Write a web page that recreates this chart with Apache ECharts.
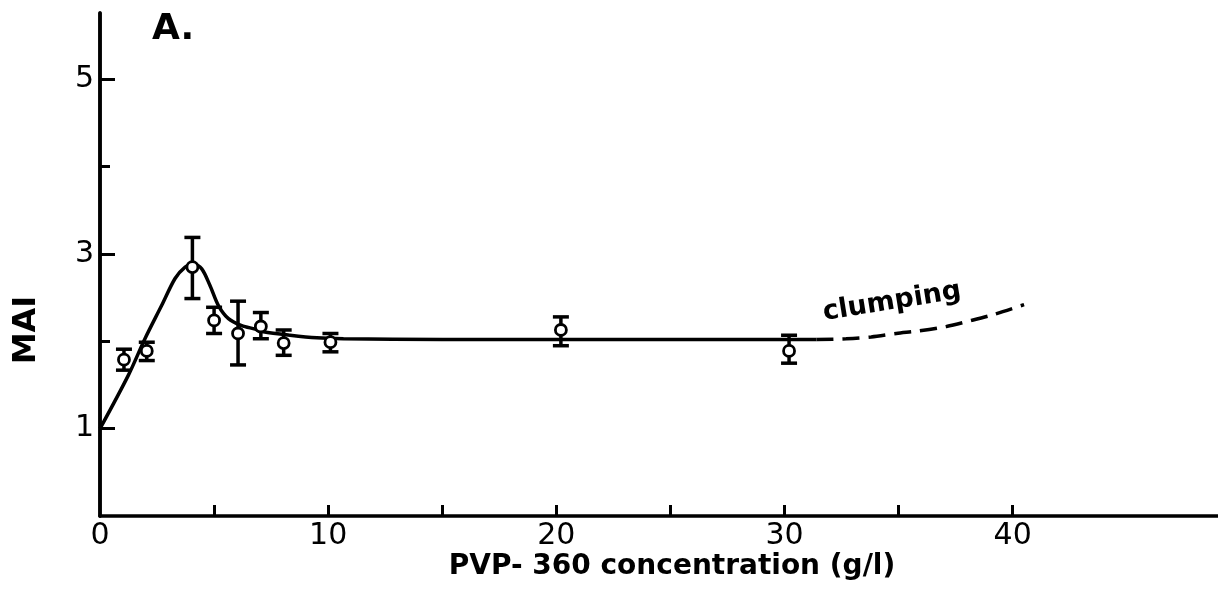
<!DOCTYPE html>
<html><head><meta charset="utf-8">
<script src="https://cdn.jsdelivr.net/npm/echarts@6/dist/echarts.min.js"></script>
<style>html,body{margin:0;padding:0;background:#fff}#c{width:1218px;height:608px}</style>
</head><body><div id="c"></div>
<script>
// measured points (PVP-360 concentration g/l, MAI)
const pointX  = [1.05, 2.05, 4.05, 5.0, 6.05, 7.05, 8.05, 10.1, 20.2, 30.2];
const pointY  = [1.79, 1.89, 2.85, 2.24, 2.09, 2.17, 1.98, 1.99, 2.13, 1.89];
const errLow  = [1.67, 1.78, 2.49, 2.09, 1.73, 2.03, 1.84, 1.88, 1.95, 1.75];
const errHigh = [1.91, 1.99, 3.19, 2.39, 2.46, 2.33, 2.13, 2.09, 2.28, 2.07];
// fitted curve (solid)
const fitX = [0, 1.24, 1.97, 2.7, 3.29, 3.73, 4.09, 4.46, 4.82, 5.19, 5.63, 6.21, 6.8, 7.16, 8.33, 9.5, 10.67, 15, 31.4];
const fitY = [1.0, 1.61, 2.03, 2.41, 2.72, 2.85, 2.89, 2.83, 2.64, 2.41, 2.26, 2.18, 2.14, 2.11, 2.07, 2.04, 2.03, 2.02, 2.02];
// clumping region (dashed)
const clumpX = [31.4, 32.7, 33.8, 34.9, 35.9, 37.1, 38.2, 39.2, 40.5];
const clumpY = [2.02, 2.03, 2.05, 2.09, 2.12, 2.17, 2.24, 2.31, 2.42];
// ticks and labels
const xTickValues  = [5, 10, 15, 20, 25, 30, 35, 40];
const xLabelValues = [0, 10, 20, 30, 40];
const yMajorTicks  = [1, 3, 5];
const yMinorTicks  = [2, 4];

const chart = echarts.init(document.getElementById('c'), null, {renderer: 'canvas'});
const FONT = 'DejaVu Sans';
const black = '#000';

const pts = pointX.map((x, i) => [x, pointY[i]]);
const errs = pointX.map((x, i) => [x, errLow[i], errHigh[i]]);
const fit = fitX.map((x, i) => [x, fitY[i]]);
const clump = clumpX.map((x, i) => [x, clumpY[i]]);

const yBase = {
  type: 'value', min: 0, max: 5.76, position: 'left',
  axisLine: {show: true, lineStyle: {color: black, width: 3.5}},
  splitLine: {show: false}
};

chart.setOption({
  backgroundColor: '#fff',
  animation: false,
  grid: {left: 100, right: 0, top: 13, bottom: 92, containLabel: false},
  xAxis: {
    type: 'value', min: 0, max: 49,
    axisLine: {show: true, onZero: false, lineStyle: {color: black, width: 3.5}},
    axisTick: {show: true, inside: false, length: -11, customValues: xTickValues, lineStyle: {color: black, width: 3}},
    axisLabel: {show: true, customValues: xLabelValues, color: black, fontFamily: FONT, fontSize: 30, margin: 5},
    splitLine: {show: false}
  },
  yAxis: [
    Object.assign({}, yBase, {
      axisTick: {show: true, inside: false, length: -15, customValues: yMajorTicks, lineStyle: {color: black, width: 3}},
      axisLabel: {show: true, customValues: yMajorTicks, color: black, fontFamily: FONT, fontSize: 30, margin: 6}
    }),
    Object.assign({}, yBase, {
      axisTick: {show: true, inside: false, length: -10, customValues: yMinorTicks, lineStyle: {color: black, width: 3}},
      axisLabel: {show: false}
    })
  ],
  series: [
    {
      type: 'line', data: fit, smooth: 0.3, symbol: 'none', z: 2,
      lineStyle: {color: black, width: 3.5}
    },
    {
      type: 'line', data: clump, smooth: 0.3, symbol: 'none', z: 2,
      lineStyle: {color: black, width: 3.5, type: [17, 9]}
    },
    {
      type: 'custom', data: errs, z: 3,
      encode: {x: 0, y: [1, 2]},
      renderItem: function (params, api) {
        const x = api.value(0);
        const pLo = api.coord([x, api.value(1)]);
        const pHi = api.coord([x, api.value(2)]);
        const hw = 8;
        const st = {stroke: black, lineWidth: 3.5};
        return {type: 'group', children: [
          {type: 'line', shape: {x1: pLo[0], y1: pLo[1], x2: pHi[0], y2: pHi[1]}, style: st},
          {type: 'line', shape: {x1: pLo[0] - hw, y1: pLo[1], x2: pLo[0] + hw, y2: pLo[1]}, style: st},
          {type: 'line', shape: {x1: pHi[0] - hw, y1: pHi[1], x2: pHi[0] + hw, y2: pHi[1]}, style: st}
        ]};
      }
    },
    {
      type: 'scatter', data: pts, symbol: 'circle', symbolSize: 11, z: 4,
      itemStyle: {color: '#ffffff', opacity: 1, borderColor: black, borderWidth: 2.8},
      emphasis: {disabled: true}
    }
  ],
  graphic: [
    {type: 'text', x: 152, y: 30, z: 10,
     style: {text: 'A.', fill: black, font: 'bold 36px "DejaVu Sans"', textAlign: 'left', textVerticalAlign: 'middle'}},
    {type: 'text', x: 27, y: 330, rotation: Math.PI / 2, z: 10,
     style: {text: 'MAI', fill: black, font: 'bold 32px "DejaVu Sans"', textAlign: 'center', textVerticalAlign: 'middle'}},
    {type: 'text', x: 672, y: 567, z: 10,
     style: {text: 'PVP- 360 concentration (g/l)', fill: black, font: 'bold 28px "DejaVu Sans"', textAlign: 'center', textVerticalAlign: 'middle'}},
    {type: 'text', x: 892, y: 302, rotation: 0.16, z: 10,
     style: {text: 'clumping', fill: black, font: 'bold 27px "DejaVu Sans"', textAlign: 'center', textVerticalAlign: 'middle'}}
  ]
});
</script>
</body></html>
